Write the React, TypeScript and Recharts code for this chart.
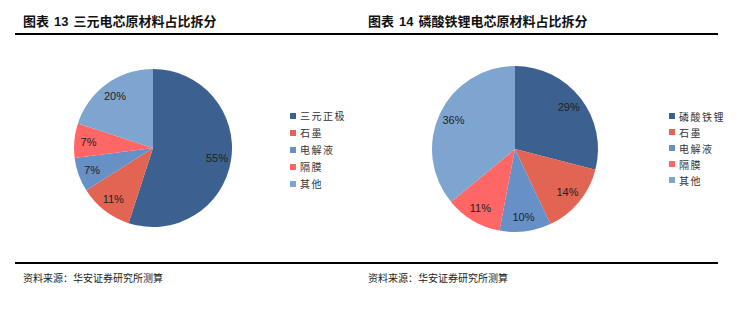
import React from 'react';
import { PieChart, Pie, Cell } from 'recharts';

// 三元电芯原材料
const ncmNames = ['三元正极', '石墨', '电解液', '隔膜', '其他'];
const ncmValues = [55, 11, 7, 7, 20];

// 磷酸铁锂电芯原材料
const lfpNames = ['磷酸铁锂', '石墨', '电解液', '隔膜', '其他'];
const lfpValues = [29, 14, 10, 11, 36];

const colors = ['#3C6090', '#E16552', '#6690C6', '#FF6666', '#7EA5D0'];

const cjk = '"Noto Sans CJK SC", sans-serif';

const toRows = (names: string[], values: number[]) =>
  names.map((name, i) => ({ name, value: values[i] }));

const RAD = Math.PI / 180;

const pctLabel = (props: any) => {
  const { cx, cy, midAngle, outerRadius, value } = props;
  const r = outerRadius * 0.82;
  const x = cx + r * Math.cos(-midAngle * RAD);
  const y = cy + r * Math.sin(-midAngle * RAD);
  return (
    <text x={x} y={y} textAnchor="middle" dominantBaseline="central"
      fontFamily="'Liberation Sans', Arial, sans-serif" fontSize={11} fill="#222">
      {value}%
    </text>
  );
};

function Panel(props: {
  title: string; num: string; names: string[]; values: number[];
  left: number; cx: number; cy: number; r: number; legendX: number; legendY: number; gap: number;
}) {
  const rows = toRows(props.names, props.values);
  return (
    <div style={{ position: 'absolute', left: props.left, top: 0, width: 360, height: 310 }}>
      <div style={{ position: 'absolute', left: 8, top: 11, whiteSpace: 'pre', fontFamily: cjk, fontWeight: 700, fontSize: 13, color: '#111' }}>
        图表<span style={{ fontFamily: "'Liberation Sans', Arial", fontWeight: 700, margin: '0 5px' }}>{props.num}</span>{props.title}
      </div>
      <div style={{ position: 'absolute', left: 8, top: 270, whiteSpace: 'nowrap', fontFamily: cjk, fontSize: 10, color: '#222' }}>
        资料来源：华安证券研究所测算
      </div>
      <div style={{ position: 'absolute', left: 0, top: 50 }}>
        <PieChart width={360} height={200} margin={{ top: 0, right: 0, bottom: 0, left: 0 }}>
          <Pie data={rows} dataKey="value" nameKey="name" cx={props.cx} cy={props.cy}
            outerRadius={props.r} startAngle={90} endAngle={-270} stroke="none"
            label={pctLabel} labelLine={false} isAnimationActive={false}>
            {rows.map((_, i) => <Cell key={i} fill={colors[i]} />)}
          </Pie>
        </PieChart>
      </div>
      <div style={{ position: 'absolute', left: props.legendX, top: props.legendY, width: 80 }}>
        {props.names.map((n, i) => (
          <div key={n} style={{ display: 'flex', alignItems: 'center', height: props.gap, whiteSpace: 'nowrap' }}>
            <span style={{ width: 6, height: 6, flexShrink: 0, background: colors[i], marginRight: 4 }} />
            <span style={{ fontFamily: cjk, fontSize: 10, color: '#333', letterSpacing: 1.5 }}>{n}</span>
          </div>
        ))}
      </div>
    </div>
  );
}

export default function App() {
  return (
    <div style={{ position: 'absolute', left: 0, top: 0, width: 752, height: 310, background: '#fff', overflow: 'hidden' }}>
      <div style={{ position: 'absolute', left: 15, top: 33, width: 703, height: 1.5, background: '#000' }} />
      <div style={{ position: 'absolute', left: 15, top: 262, width: 703, height: 1.5, background: '#000' }} />
      <Panel title="三元电芯原材料占比拆分" num="13" names={ncmNames} values={ncmValues}
        left={15} cx={138} cy={98} r={79} legendX={275} legendY={107} gap={17} />
      <Panel title="磷酸铁锂电芯原材料占比拆分" num="14" names={lfpNames} values={lfpValues}
        left={360} cx={155} cy={99} r={83} legendX={309} legendY={108} gap={16} />
    </div>
  );
}
